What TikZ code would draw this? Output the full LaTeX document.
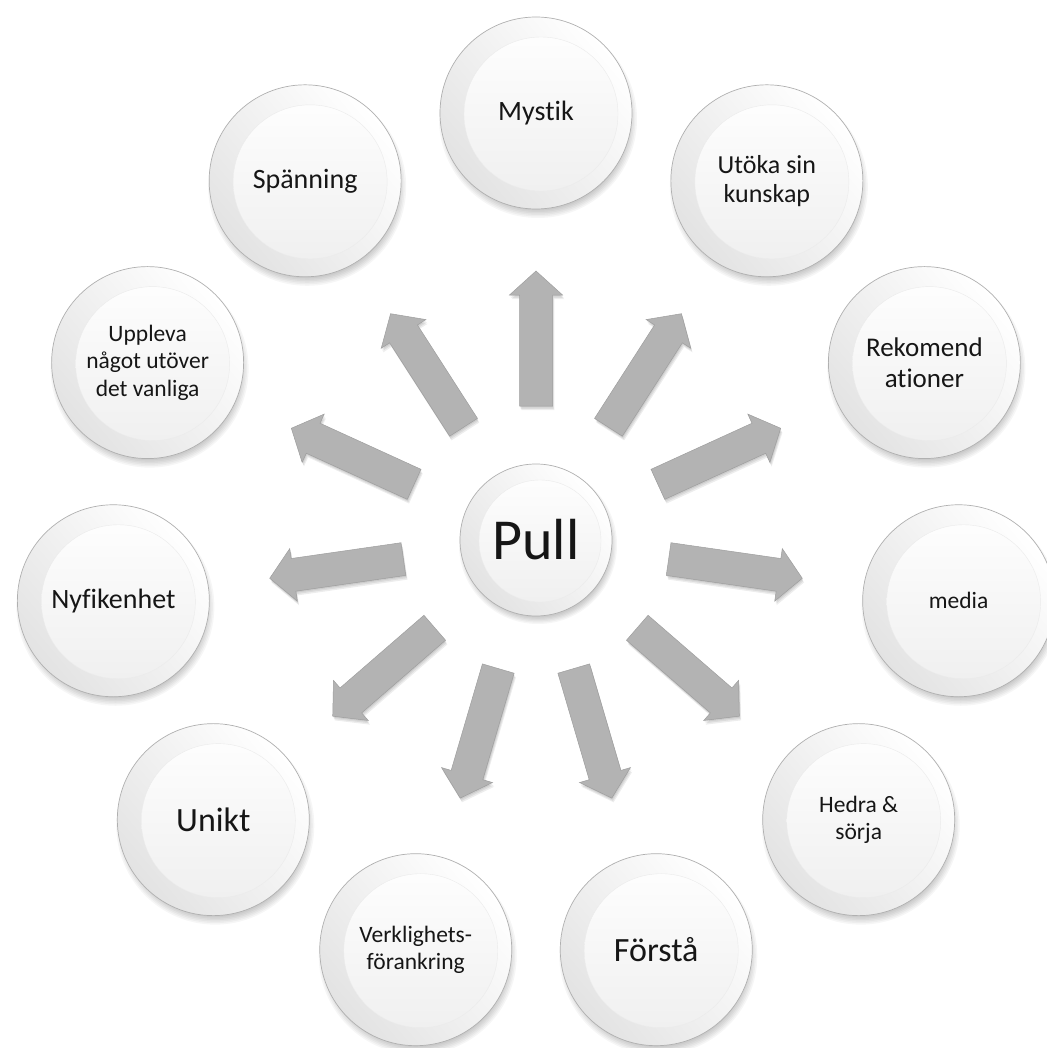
\documentclass[tikz,border=0pt]{standalone}
\usepackage{fontspec}
\setmainfont[Ligatures=NoCommon]{Carlito}
\usetikzlibrary{calc}
\definecolor{arrowgray}{HTML}{B3B3B3}
\definecolor{arrowedge}{HTML}{9E9E9E}
\definecolor{txt}{HTML}{161616}
\definecolor{rimedge}{HTML}{B0B0B0}
\tikzset{
  ballbase/.style={circle, inner sep=0pt, draw=rimedge, line width=0.7pt,
    top color=white, bottom color=gray!22, shading angle=-50,
    text=txt, align=center},
  ball/.style={ballbase, minimum size=192pt,
    path picture={\shade[top color=white, bottom color=gray!13, draw=gray!16, line width=0.4pt]
      ([shift={(5pt,-1pt)}]path picture bounding box.center) circle (77pt);}},
  centerball/.style={ballbase, minimum size=152pt,
    path picture={\shade[top color=white, bottom color=gray!13, draw=gray!16, line width=0.4pt]
      ([shift={(4pt,-1pt)}]path picture bounding box.center) circle (61pt);}},
  fs/.style 2 args={font=\fontsize{#1}{#2}\selectfont},
  arrowbody/.style={fill=arrowgray, draw=arrowedge, line width=0.5pt},
  arrowshade/.style={fill=black, opacity=0.07},
  ballshade/.style={fill=black, opacity=0.035}
}
\begin{document}
\begin{tikzpicture}[x=1pt,y=1pt]
\useasboundingbox (0,0) rectangle (1046,-1048);
\fill[white] (0,0) rectangle (1046,-1048);
\coordinate (o) at (536,-540);

% soft shadows under the circles
\foreach \k in {0,...,10}{
  \pgfmathsetmacro{\a}{90-\k*360/11}
  \foreach \i in {0,...,5}{
    \pgfmathsetmacro{\rr}{99-\i*1.5}
    \fill[ballshade] ($(o)+(\a:427pt)+(2pt,-6pt)$) circle (\rr pt);
  }
}
\foreach \i in {0,...,5}{
  \pgfmathsetmacro{\rr}{79-\i*1.3}
  \fill[ballshade] ($(o)+(2pt,-5pt)$) circle (\rr pt);
}

% block arrows
\foreach \k in {0,...,10}{
  \pgfmathsetmacro{\a}{90-\k*360/11}
  \foreach \s in {1.0,2.0,3.0}{
    \begin{scope}[shift={($(o)+(\s*0.6pt,-\s*1.4pt)$)}, rotate=\a]
      \fill[arrowshade] (134,-16.5) -- (245,-16.5) -- (245,-26.5) -- (269,0)
        -- (245,26.5) -- (245,16.5) -- (134,16.5) -- cycle;
    \end{scope}
  }
  \begin{scope}[shift={(o)}, rotate=\a]
    \filldraw[arrowbody] (134,-16.5) -- (245,-16.5) -- (245,-26.5) -- (269,0)
      -- (245,26.5) -- (245,16.5) -- (134,16.5) -- cycle;
  \end{scope}
}

% centre
\node[centerball, fs={58}{66}] (pull) at (o) {Pull};

% outer circles
\node[ball, fs={28}{33}]     (mystik)   at ($(o)+(90:427pt)$)      {Mystik};
\node[ball, fs={26}{29}]     (utoka)    at ($(o)+(57.27:427pt)$)   {Utöka sin\\kunskap};
\node[ball, fs={27}{31}]     (rekom)    at ($(o)+(24.55:427pt)$)   {Rekomend\\ationer};
\node[ball, fs={23.5}{27.5}] (media)    at ($(o)+(-8.18:427pt)$)   {media};
\node[ball, fs={23.5}{27.5}] (hedra)    at ($(o)+(-40.91:427pt)$)  {Hedra \&\\sörja};
\node[ball, fs={34}{40}]     (forsta)   at ($(o)+(-73.64:427pt)$)  {Förstå};
\node[ball, fs={23.5}{27.5}] (verk)     at ($(o)+(-106.36:427pt)$) {Verklighets-\\förankring};
\node[ball, fs={34}{40}]     (unikt)    at ($(o)+(-139.09:427pt)$) {Unikt};
\node[ball, fs={28}{33}]     (nyfik)    at ($(o)+(-171.82:427pt)$) {Nyfikenhet};
\node[ball, fs={23.5}{27.5}] (uppleva)  at ($(o)+(155.45:427pt)$)  {Uppleva\\något utöver\\det vanliga};
\node[ball, fs={28}{33}]     (spanning) at ($(o)+(122.73:427pt)$)  {Spänning};
\end{tikzpicture}
\end{document}
